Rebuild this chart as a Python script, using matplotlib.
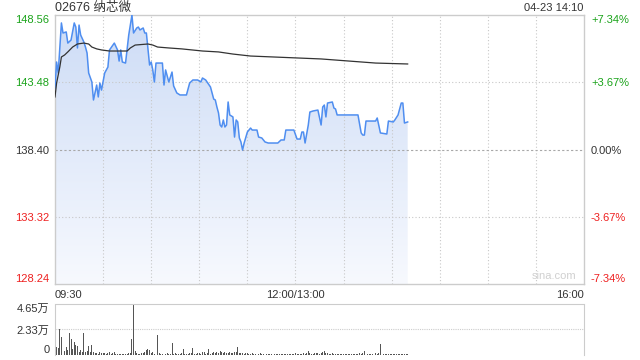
import numpy as np
import matplotlib
matplotlib.use("Agg")
import matplotlib.pyplot as plt
from matplotlib.colors import LinearSegmentedColormap

plt.rcParams['font.family'] = ['Liberation Sans', 'Noto Sans CJK SC', 'DejaVu Sans']

# minutes after 09:30 (lunch break removed), price
price_t = [0, 1, 2, 4, 5, 7, 8, 10, 12, 13, 14, 15, 16, 18, 19, 20, 21, 23, 24, 26,
           27, 28, 29, 31, 33, 34, 37, 39, 40, 41, 42, 44, 46, 47, 48, 49, 51, 52, 53, 55,
           56, 57, 59, 60, 61, 62, 63, 67, 68, 69, 71, 72, 73, 74, 76, 78, 82, 84, 86, 89,
           91, 92, 94, 97, 98, 99, 100, 101, 102, 103, 104, 105, 106, 107, 108, 109, 111, 112, 113, 114,
           115, 116, 117, 118, 120, 122, 123, 126, 127, 129, 131, 133, 139, 141, 143, 144, 149, 151, 153, 154,
           155, 156, 158, 159, 161, 164, 166, 167, 168, 169, 170, 173, 174, 175, 176, 189, 191, 192, 193, 194,
           200, 201, 203, 207, 208, 211, 212, 214, 216, 217, 218, 220]
price = [143.05, 145.01, 144.18, 147.96, 147.20, 147.28, 146.44, 146.67, 147.96, 147.65,
         146.07, 147.80, 147.05, 146.52, 146.14, 145.69, 144.18, 143.50, 142.14, 143.27,
         142.37, 143.42, 142.89, 144.18, 144.63, 145.92, 146.44, 145.92, 145.08, 145.92,
         145.01, 144.93, 147.05, 147.80, 148.56, 147.20, 147.58, 147.65, 147.43, 147.58,
         147.20, 147.20, 144.78, 145.01, 144.41, 143.50, 144.93, 144.93, 143.27, 144.41,
         143.50, 143.88, 144.25, 143.20, 142.67, 142.52, 142.52, 143.42, 143.65, 143.65,
         143.50, 143.80, 143.65, 143.12, 142.67, 142.21, 142.14, 141.61, 141.16, 140.25,
         140.10, 140.63, 140.10, 140.25, 141.99, 141.01, 140.86, 139.34, 140.63, 140.48,
         139.27, 138.97, 138.36, 138.89, 139.72, 140.02, 139.87, 139.87, 139.34, 139.27,
         138.97, 138.89, 138.89, 139.12, 139.12, 139.87, 139.87, 139.19, 139.19, 139.72,
         139.72, 138.89, 140.25, 141.23, 141.31, 141.38, 140.25, 141.61, 141.76, 140.86,
         141.91, 141.99, 141.53, 141.46, 141.01, 141.01, 139.65, 139.49, 139.49, 140.55,
         140.55, 140.78, 139.65, 139.57, 140.55, 140.48, 140.63, 141.01, 141.91, 141.91,
         140.40, 140.48]

avg_t = [0, 1, 3, 4, 6, 8, 11, 14, 18, 21, 23, 26, 29, 34, 45, 47, 50, 58, 61, 64,
         71, 79, 92, 102, 111, 122, 166, 200, 220]
avg_price = [142.37, 143.42, 144.63, 145.39, 145.54, 145.77, 146.14, 146.37, 146.44, 146.37,
             146.14, 146.00, 145.92, 145.84, 145.84, 146.07, 146.29, 146.37, 146.29, 146.14,
             146.07, 146.00, 145.84, 145.77, 145.61, 145.46, 145.24, 144.93, 144.86]

# volume per minute, in 万 shares
volume = [0.30, 0.73, 0.64, 2.37, 1.64, 1.09, 0.36, 0.73, 0.45, 2.00,
          1.46, 0.55, 1.19, 0.91, 0.82, 0.30, 0.46, 0.27, 2.00, 0.25,
          0.36, 0.82, 0.27, 0.91, 0.27, 0.15, 0.20, 0.12, 0.25, 0.18,
          0.15, 0.22, 0.10, 0.18, 0.27, 0.12, 0.15, 0.30, 0.10, 0.08,
          0.12, 0.06, 0.10, 0.08, 0.12, 0.10, 0.15, 0.20, 1.46, 4.65,
          0.36, 0.15, 0.10, 0.12, 0.20, 0.15, 0.30, 0.50, 0.55, 0.46,
          0.20, 0.27, 0.10, 0.12, 1.82, 0.15, 0.10, 0.08, 0.12, 0.10,
          0.15, 0.08, 0.12, 1.09, 0.10, 0.15, 0.08, 0.12, 0.10, 0.20,
          0.55, 0.12, 0.08, 0.10, 0.15, 0.20, 0.64, 0.10, 0.12, 0.15,
          0.20, 0.10, 0.25, 0.30, 0.12, 0.15, 0.55, 0.10, 0.20, 0.25,
          0.15, 0.30, 0.20, 0.35, 0.25, 0.18, 0.30, 0.15, 0.20, 0.25,
          0.15, 0.20, 0.30, 0.25, 0.70, 0.20, 0.15, 0.18, 0.12, 0.20,
          0.15, 0.10, 0.12, 0.18, 0.10, 0.08, 0.12, 0.10, 0.15, 0.08,
          0.10, 0.12, 0.08, 0.10, 0.06, 0.08, 0.10, 0.12, 0.08, 0.10,
          0.12, 0.10, 0.08, 0.06, 0.10, 0.08, 0.12, 0.10, 0.08, 0.10,
          0.15, 0.10, 0.12, 0.08, 0.10, 0.15, 0.12, 0.20, 0.32, 0.15,
          0.10, 0.12, 0.20, 0.15, 0.18, 0.12, 0.15, 0.25, 0.38, 0.20,
          0.15, 0.10, 0.12, 0.18, 0.10, 0.08, 0.12, 0.10, 0.08, 0.10,
          0.12, 0.08, 0.10, 0.06, 0.08, 0.10, 0.12, 0.08, 0.10, 0.12,
          0.15, 0.10, 0.20, 0.32, 0.15, 0.12, 0.10, 0.08, 0.12, 0.10,
          0.15, 0.12, 0.18, 1.00, 0.12, 0.10, 0.08, 0.12, 0.10, 0.08,
          0.10, 0.12, 0.08, 0.10, 0.06, 0.08, 0.10, 0.08, 0.06, 0.08,
          0.05]

price_ticks = [128.24, 133.32, 138.40, 143.48, 148.56]
price_labels = ['128.24', '133.32', '138.40', '143.48', '148.56']
pct_labels = ['-7.34%', '-3.67%', '0.00%', '+3.67%', '+7.34%']
tick_colors = ['#ee2020', '#ee2020', '#333333', '#1aa31a', '#1aa31a']
time_ticks = [0, 150, 330]
time_labels = ['09:30', '12:00/13:00', '16:00']
vol_ticks = [0, 2.33, 4.65]
vol_labels = ['0', '2.33万', '4.65万']

fig = plt.figure(figsize=(6.4, 3.6), dpi=100)
ax = fig.add_axes([55 / 640, 1 - 284 / 360, 529 / 640, 269 / 360])
axv = fig.add_axes([55 / 640, 1 - 355 / 360, 529 / 640, 51 / 360])

lo, hi = price_ticks[0], price_ticks[-1]
ax.set_xlim(0, 330)
ax.set_ylim(lo, hi)

# grid, drawn over the shaded area
for x in range(30, 330, 30):
    ax.axvline(x, color='#c8c8c8', lw=0.8, ls=(0, (1, 2)), zorder=2)
for y in price_ticks[1:-1]:
    if y == 138.40:
        ax.axhline(y, color='#a8a8a8', lw=0.8, ls=(0, (2, 2)), zorder=2)
    else:
        ax.axhline(y, color='#c8c8c8', lw=0.8, ls=(0, (1, 2)), zorder=2)

# gradient area under the price line
poly = ax.fill_between(price_t, price, lo, color='none', lw=0)
cmap = LinearSegmentedColormap.from_list('fade', ['#f7f9fe', '#cddcf6'])
grad = np.linspace(0, 1, 256).reshape(-1, 1)
im = ax.imshow(grad, extent=[0, 220, lo, hi], origin='lower', aspect='auto',
               cmap=cmap, zorder=1)
im.set_clip_path(poly.get_paths()[0], transform=ax.transData)

ax.plot(price_t, price, color='#4f8ef0', lw=1.1, zorder=3)
ax.plot(avg_t, avg_price, color='#333333', lw=0.9, zorder=4)

for s in ax.spines.values():
    s.set_color('#cccccc')
    s.set_linewidth(1)

ax.set_yticks(price_ticks)
ax.set_yticklabels(price_labels, fontsize=8)
ax.tick_params(axis='y', length=0, pad=4)
for lab, c in zip(ax.get_yticklabels(), tick_colors):
    lab.set_color(c)
ax.get_yticklabels()[0].set_va('bottom')
ax.get_yticklabels()[-1].set_va('top')

axr = ax.twinx()
axr.set_ylim(lo, hi)
axr.set_yticks(price_ticks)
axr.set_yticklabels(pct_labels, fontsize=8)
axr.tick_params(axis='y', length=0, pad=5)
for lab, c in zip(axr.get_yticklabels(), tick_colors):
    lab.set_color(c)
axr.get_yticklabels()[0].set_va('bottom')
axr.get_yticklabels()[-1].set_va('top')
for s in axr.spines.values():
    s.set_visible(False)

ax.set_xticks(time_ticks)
ax.set_xticklabels(time_labels, fontsize=8, color='#333333')
ax.tick_params(axis='x', length=0, pad=4)
ax.get_xticklabels()[0].set_ha('left')
ax.get_xticklabels()[-1].set_ha('right')

ax.text(0.985, 0.012, 'sina.com', transform=ax.transAxes, ha='right', va='bottom',
        fontsize=8, color='#d0d0d0')

fig.text(55 / 640, 1 - 8 / 360, '02676 纳芯微', fontsize=9, color='#333333',
         ha='left', va='center')
fig.text(583 / 640, 1 - 8 / 360, '04-23 14:10', fontsize=8, color='#333333',
         ha='right', va='center')

# volume panel
vt = np.arange(len(volume))
axv.bar(vt, volume, width=0.6, color='#555555', lw=0)
axv.set_xlim(0, 330)
axv.set_ylim(0, vol_ticks[-1])
axv.axhline(2.33, color='#cccccc', lw=0.8, ls=(0, (1, 1)), zorder=0)
for s in axv.spines.values():
    s.set_color('#cccccc')
    s.set_linestyle((0, (1, 1)))
    s.set_linewidth(0.8)
axv.spines['bottom'].set_visible(False)
axv.set_xticks([])
axv.set_yticks(vol_ticks)
axv.set_yticklabels(vol_labels, fontsize=8, color='#333333')
axv.tick_params(axis='y', length=0, pad=4)
axv.get_yticklabels()[0].set_va('bottom')
axv.get_yticklabels()[-1].set_va('top')

fig.savefig('out.png', dpi=100)
